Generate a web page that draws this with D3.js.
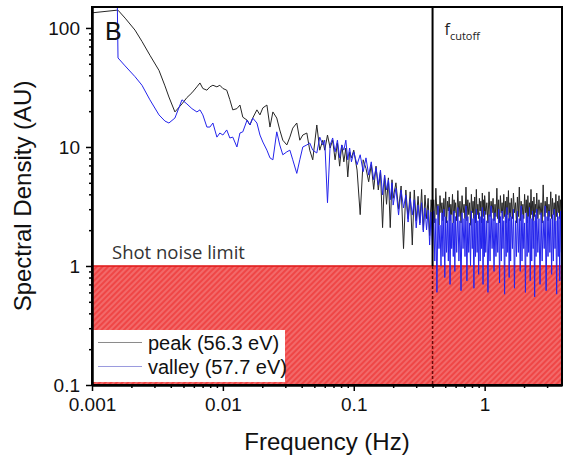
<!DOCTYPE html>
<html>
<head>
<meta charset="utf-8">
<script src="https://cdn.jsdelivr.net/npm/d3@7"></script>
<style>
  body { margin: 0; background: #fff; }
  svg { display: block; }
</style>
</head>
<body>
<svg id="chart"></svg>
<script>
//frequency grid shared by both spectra (Hz)
var freq = [
    0.001, 0.00155, 0.00158, 0.00179, 0.00213, 0.00241, 0.00277, 0.00325, 0.00361, 0.00387,
    0.0043, 0.00487, 0.00531, 0.0058, 0.00633, 0.00668, 0.00703, 0.00755, 0.00796, 0.00839,
    0.009, 0.00948, 0.01, 0.0107, 0.0113, 0.0119, 0.0128, 0.0135, 0.0142, 0.0153,
    0.0161, 0.0169, 0.0182, 0.0192, 0.0202, 0.0217, 0.0229, 0.0241, 0.0258, 0.0272,
    0.0287, 0.0308, 0.0325, 0.0342, 0.0367, 0.0387, 0.0408, 0.0438, 0.0461, 0.0486,
    0.0522, 0.055, 0.058,
    0.060, 0.063, 0.066, 0.069, 0.072, 0.075, 0.078, 0.081, 0.084, 0.087, 0.090, 0.093, 0.096,
    0.100, 0.106, 0.112, 0.118, 0.124, 0.130, 0.136, 0.142, 0.148, 0.154, 0.160, 0.166, 0.172,
    0.178, 0.184, 0.190, 0.196,
    0.20, 0.21, 0.22, 0.23, 0.24, 0.25, 0.26, 0.27, 0.28, 0.29,
    0.30, 0.31, 0.32, 0.33, 0.34, 0.35, 0.36, 0.37, 0.38, 0.39,
    0.400, 0.408, 0.416, 0.424, 0.432, 0.440, 0.448, 0.456, 0.464, 0.472,
    0.480, 0.488, 0.496, 0.504, 0.512, 0.520, 0.528, 0.536, 0.544, 0.552,
    0.560, 0.568, 0.576, 0.584, 0.592,
    0.600, 0.612, 0.624, 0.636, 0.648, 0.660, 0.672, 0.684, 0.696, 0.708,
    0.720, 0.732, 0.744, 0.756, 0.768, 0.780, 0.792, 0.804, 0.816, 0.828,
    0.840, 0.852, 0.864, 0.876, 0.888, 0.900, 0.912, 0.924, 0.936, 0.948,
    0.960, 0.972, 0.984, 0.996,
    1.00, 1.02, 1.04, 1.06, 1.08, 1.10, 1.12, 1.14, 1.16, 1.18,
    1.20, 1.22, 1.24, 1.26, 1.28, 1.30, 1.32, 1.34, 1.36, 1.38,
    1.40, 1.42, 1.44, 1.46, 1.48, 1.50, 1.52, 1.54, 1.56, 1.58,
    1.60, 1.63, 1.66, 1.69, 1.72, 1.75, 1.78, 1.81, 1.84, 1.87,
    1.90, 1.93, 1.96, 1.99, 2.02, 2.05, 2.08, 2.11, 2.14, 2.17,
    2.20, 2.23, 2.26, 2.29, 2.32, 2.35, 2.38, 2.41, 2.44, 2.47,
    2.50, 2.55, 2.60, 2.65, 2.70, 2.75, 2.80, 2.85, 2.90, 2.95,
    3.00, 3.05, 3.10, 3.15, 3.20, 3.25, 3.30, 3.35, 3.40, 3.45,
    3.50, 3.55, 3.60, 3.65, 3.70, 3.75, 3.80, 3.85
];

//peak (56.3 eV) spectral density, AU
var peak = [
    134, 141, 141, 121, 96, 77, 59, 44, 32.6, 26.3,
    19.7, 23, 26, 28.5, 32, 34.5, 31, 30, 32, 33,
    32, 33, 31, 30, 25, 20.5, 21, 22.5, 17.8, 16.8,
    15.3, 17.5, 20.5, 18.6, 21.3, 22.5, 14.7, 19.7, 17.5, 13.9,
    11.4, 10.4, 12.1, 14.4, 15.9, 11.4, 12.6, 13.1, 9.4, 7.8,
    15.3, 9.4, 11.4,
    9.4, 12.6, 9.8, 11.4, 7.8, 10.8, 6.9, 10.4, 7.5, 9.8, 5.6, 9.1, 8.1,
    9.4, 6.4, 2.7, 7.8, 6.6, 5.1, 7.1, 4.4, 6.9, 4.35, 6.2, 2.1, 5.8,
    3.3, 5.5, 2.1, 5.3,
    3.7, 5.0, 3.0, 4.7, 1.4, 4.35, 2.5, 4.2, 1.5, 4.35,
    2.4, 3.85, 2.3, 4.4, 2.0, 3.95, 2.5, 3.7, 1.8, 3.6,
    2.5, 3.6, 2.3, 4.5, 2.7, 3.3, 2.2, 3.9, 2.8, 3.4,
    2.4, 3.7, 2.6, 4.2, 2.3, 3.5, 2.9, 3.8, 2.4, 3.3,
    2.7, 4.0, 2.3, 3.6, 2.8,
    3.4, 2.4, 4.3, 2.6, 3.5, 2.3, 3.9, 2.8, 3.3, 2.5,
    4.6, 2.4, 3.6, 2.7, 3.4, 2.2, 4.0, 2.8, 3.5, 2.5,
    3.8, 2.3, 4.4, 2.7, 3.3, 2.5, 3.7, 2.9, 3.5, 2.3,
    4.1, 2.6, 3.6, 2.4,
    3.9, 2.7, 3.4, 2.3, 4.2, 2.6, 3.5, 2.8, 3.7, 2.4,
    3.3, 2.6, 4.5, 2.5, 3.6, 2.3, 3.9, 2.8, 3.4, 2.5,
    4.0, 2.6, 3.5, 2.3, 3.8, 2.7, 4.3, 2.4, 3.4, 2.6,
    3.7, 2.5, 4.1, 2.8, 3.4, 2.3, 3.8, 2.6, 4.6, 2.4,
    3.5, 2.7, 3.3, 2.5, 4.0, 2.8, 3.6, 2.3, 3.9, 2.6,
    3.4, 2.5, 4.4, 2.7, 3.5, 2.4, 3.8, 2.6, 3.3, 2.8,
    4.1, 2.5, 3.6, 2.7, 3.4, 2.3, 4.8, 2.6, 3.5, 2.8,
    3.8, 2.4, 3.3, 2.6, 4.2, 2.5, 3.7, 2.7, 3.4, 2.4,
    4.0, 2.6, 3.5, 2.8, 3.9, 2.5, 3.6, 2.7
];

//valley (57.7 eV) spectral density, AU (first two points are off the top)
var valley = [
    400, 300, 56, 48, 39, 33, 24.9, 18.6, 16.5, 15.9,
    17.5, 24.9, 23, 21, 19.7, 20.5, 18.6, 14.7, 14.7, 15.9,
    12.1, 13.1, 12.6, 13.9, 11.9, 12.1, 10, 13.1, 13.4, 16.8,
    15.3, 17.5, 15.9, 12.6, 11, 9.4, 8.1, 7.8, 13.4, 10.4,
    8.6, 9.1, 9.4, 7.8, 6.0, 7.8, 10, 10.4, 10.8, 9.4,
    8.9, 12.1, 10.4,
    11.4, 3.4, 10.4, 11.9, 9.1, 11.4, 8.1, 10.4, 9.4, 11.4, 7.8, 9.8, 7.5,
    9.1, 7.1, 8.6, 6.2, 8.1, 5.8, 7.5, 5.3, 6.7, 4.8, 6.4, 3.95, 5.8,
    4.35, 5.3, 3.6, 5.0,
    3.25, 4.5, 2.68, 4.35, 3.07, 3.95, 2.34, 3.7, 2.68, 3.6,
    2.09, 3.25, 2.21, 3.4, 1.93, 3.07, 2.01, 2.95, 1.5, 2.84,
    1.3, 2.9, 1.1, 2.5, 0.6, 3.2, 1.4, 2.2, 1.0, 2.8,
    1.2, 3.0, 0.8, 2.6, 1.3, 2.4, 1.1, 3.1, 0.7, 2.7,
    1.4, 2.3, 1.2, 2.9, 0.9,
    2.6, 1.3, 3.1, 1.1, 2.4, 0.62, 2.8, 1.4, 2.5, 1.2,
    3.2, 0.75, 2.6, 1.3, 2.3, 1.0, 2.9, 1.4, 2.5, 0.65,
    2.7, 1.2, 3.0, 1.3, 2.4, 0.85, 2.8, 1.1, 2.6, 1.4,
    3.1, 0.7, 2.5, 1.2,
    2.9, 1.3, 2.4, 0.6, 2.7, 1.1, 3.2, 1.4, 2.5, 0.9,
    2.8, 1.2, 2.3, 1.3, 3.0, 0.72, 2.6, 1.1, 2.9, 1.4,
    2.4, 0.58, 2.7, 1.2, 3.1, 1.3, 2.5, 0.8, 2.8, 1.1,
    2.6, 1.4, 3.0, 0.65, 2.4, 1.2, 2.9, 1.3, 2.5, 0.9,
    3.2, 1.1, 2.7, 1.4, 2.3, 0.6, 2.8, 1.2, 2.6, 1.3,
    3.1, 0.75, 2.5, 1.1, 2.9, 1.4, 2.4, 0.55, 2.7, 1.2,
    3.0, 1.3, 2.5, 0.7, 2.8, 1.1, 2.4, 1.4, 3.2, 0.62,
    2.6, 1.2, 2.9, 1.3, 2.5, 0.85, 2.7, 1.1, 3.0, 1.4,
    2.4, 0.58, 2.8, 1.2, 2.6, 0.75, 2.9, 1.3
];

var seriesNames = ['peak (56.3 eV)', 'valley (57.7 eV)'];
var xTicks = [0.001, 0.01, 0.1, 1];
var yTicks = [0.1, 1, 10, 100];
var shotNoise = 1;
var fCutoff = 0.4;

var width = 563, height = 459;
var margin = {top: 7, right: 1, bottom: 74, left: 92};
var w = width - margin.left - margin.right;
var h = height - margin.top - margin.bottom;

var tickFont = "'Liberation Sans', Arial, sans-serif";
var noteFont = "'Open Sans', 'Noto Sans', sans-serif";

var svg = d3.select('#chart')
    .attr('width', width)
    .attr('height', height);

var x = d3.scaleLog()
    .domain([0.001, 3.9])
    .range([0, w]);
var y = d3.scaleLog()
    .domain([0.1, 150])
    .range([h, 0]);

//hatch fill for the shot noise region
var defs = svg.append('defs');
var hatch = defs.append('pattern')
    .attr('id', 'hatch')
    .attr('patternUnits', 'userSpaceOnUse')
    .attr('width', 4)
    .attr('height', 4)
    .attr('patternTransform', 'rotate(45)');
hatch.append('rect')
    .attr('width', 4)
    .attr('height', 4)
    .attr('fill', '#ef4646');
hatch.append('line')
    .attr('x1', 1)
    .attr('y1', 0)
    .attr('x2', 1)
    .attr('y2', 4)
    .attr('stroke', '#f58080')
    .attr('stroke-width', 1.2);

defs.append('clipPath')
    .attr('id', 'plotClip')
    .append('rect')
    .attr('width', w)
    .attr('height', h);

var g = svg.append('g')
    .attr('transform', 'translate(' + margin.left + ',' + margin.top + ')');

//shot noise limit box
g.append('rect')
    .attr('x', 0)
    .attr('y', y(shotNoise))
    .attr('width', w)
    .attr('height', h - y(shotNoise))
    .attr('fill', 'url(#hatch)')
    .attr('stroke', '#e01818')
    .attr('stroke-width', 1.5);

g.append('text')
    .attr('x', 20)
    .attr('y', y(shotNoise) - 7)
    .attr('font-family', noteFont)
    .attr('font-size', '18.5px')
    .attr('fill', '#333')
    .text('Shot noise limit');

//spectra
var line = d3.line()
    .x(function(d) {return x(d[0]);})
    .y(function(d) {return y(d[1]);});

var lines = g.append('g')
    .attr('clip-path', 'url(#plotClip)');

lines.append('path')
    .datum(d3.zip(freq, peak))
    .attr('d', line)
    .attr('fill', 'none')
    .attr('stroke', '#262626')
    .attr('stroke-width', 1);

lines.append('path')
    .datum(d3.zip(freq, valley))
    .attr('d', line)
    .attr('fill', 'none')
    .attr('stroke', '#2424ec')
    .attr('stroke-width', 1);

//legend
var legend = g.append('g')
    .attr('transform', 'translate(1,' + (y(shotNoise) + 64) + ')');
legend.append('rect')
    .attr('width', 192)
    .attr('height', 52)
    .attr('fill', '#fff');
var legendColors = ['#8a8a8a', '#9a9ade'];
seriesNames.forEach(function(name, i) {
    var ly = 12.5 + i * 24;
    legend.append('line')
        .attr('x1', 5)
        .attr('x2', 49)
        .attr('y1', ly)
        .attr('y2', ly)
        .attr('stroke', legendColors[i])
        .attr('stroke-width', 1);
    legend.append('text')
        .attr('x', 55)
        .attr('y', ly + 7.5)
        .attr('font-family', tickFont)
        .attr('font-size', '20px')
        .attr('fill', '#111')
        .text(name);
});

//cutoff frequency marker
g.append('line')
    .attr('x1', x(fCutoff))
    .attr('x2', x(fCutoff))
    .attr('y1', 0)
    .attr('y2', y(shotNoise))
    .attr('stroke', '#000')
    .attr('stroke-width', 2);
g.append('line')
    .attr('x1', x(fCutoff))
    .attr('x2', x(fCutoff))
    .attr('y1', y(shotNoise))
    .attr('y2', h)
    .attr('stroke', '#6a0a0a')
    .attr('stroke-width', 1.5)
    .attr('stroke-dasharray', '3,2');

var fLabel = g.append('text')
    .attr('x', x(fCutoff) + 12)
    .attr('y', 28)
    .attr('font-family', noteFont)
    .attr('fill', '#222');
fLabel.append('tspan')
    .attr('font-size', '16px')
    .text('f');
fLabel.append('tspan')
    .attr('font-size', '11px')
    .attr('dy', 5)
    .text('cutoff');

g.append('text')
    .attr('x', 13)
    .attr('y', 33)
    .attr('font-family', tickFont)
    .attr('font-size', '25px')
    .attr('fill', '#111')
    .text('B');

//axes: major ticks with labels, minor ticks without
var xMinor = x.ticks().filter(function(d) {return xTicks.indexOf(d) < 0;});
var yMinor = y.ticks().filter(function(d) {return yTicks.indexOf(d) < 0;});

g.append('g')
    .attr('class', 'axis')
    .attr('transform', 'translate(0,' + h + ')')
    .call(d3.axisBottom(x)
        .tickValues(xMinor)
        .tickFormat('')
        .tickSize(3)
        .tickSizeOuter(0));
g.append('g')
    .attr('class', 'axis')
    .attr('transform', 'translate(0,' + h + ')')
    .call(d3.axisBottom(x)
        .tickValues(xTicks)
        .tickFormat(function(d) {return String(d);})
        .tickSize(6)
        .tickPadding(7)
        .tickSizeOuter(0));

g.append('g')
    .attr('class', 'axis')
    .call(d3.axisLeft(y)
        .tickValues(yMinor)
        .tickFormat('')
        .tickSize(3)
        .tickSizeOuter(0));
g.append('g')
    .attr('class', 'axis')
    .call(d3.axisLeft(y)
        .tickValues(yTicks)
        .tickFormat(function(d) {return String(d);})
        .tickSize(6)
        .tickPadding(6)
        .tickSizeOuter(0));

g.selectAll('.axis path')
    .attr('stroke', '#000')
    .attr('stroke-width', 2);
g.selectAll('.axis line')
    .attr('stroke', '#000')
    .attr('stroke-width', 1.5);
g.selectAll('.axis text')
    .attr('font-family', tickFont)
    .attr('font-size', '19px')
    .attr('fill', '#111');

//frame
g.append('rect')
    .attr('width', w)
    .attr('height', h)
    .attr('fill', 'none')
    .attr('stroke', '#000')
    .attr('stroke-width', 2);

//axis titles
svg.append('text')
    .attr('x', margin.left + w / 2)
    .attr('y', 450)
    .attr('text-anchor', 'middle')
    .attr('font-family', tickFont)
    .attr('font-size', '24px')
    .attr('fill', '#111')
    .text('Frequency (Hz)');

svg.append('text')
    .attr('transform', 'translate(31,' + (margin.top + h / 2) + ') rotate(-90)')
    .attr('text-anchor', 'middle')
    .attr('font-family', tickFont)
    .attr('font-size', '24px')
    .attr('fill', '#111')
    .text('Spectral Density (AU)');
</script>
</body>
</html>
